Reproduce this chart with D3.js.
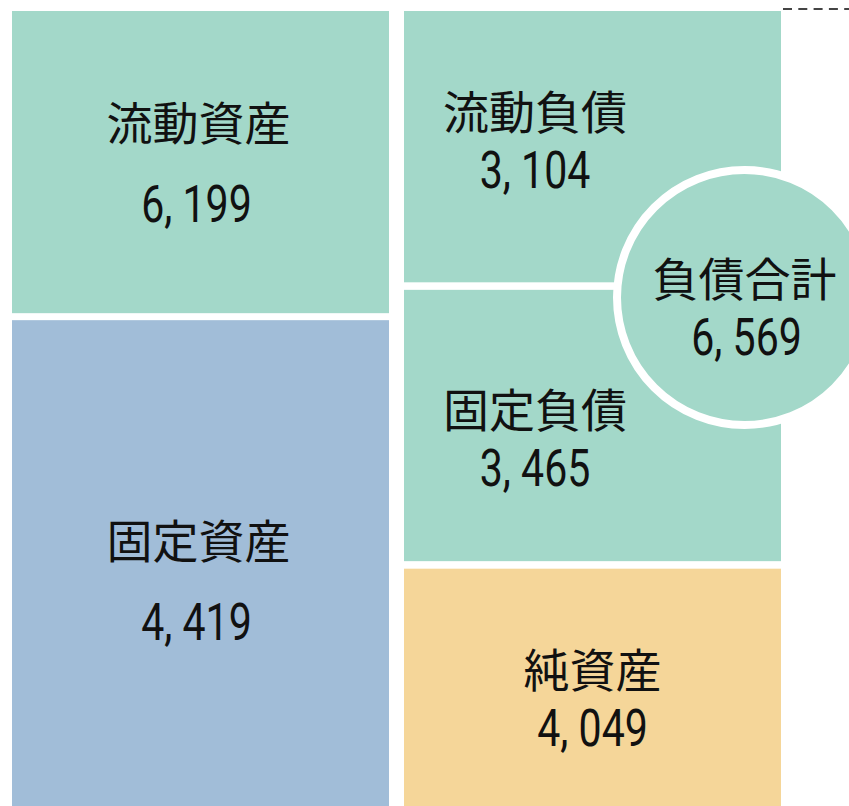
<!DOCTYPE html>
<html>
<head>
<meta charset="utf-8">
<script src="https://cdn.jsdelivr.net/npm/d3@7"></script>
<style>
  html, body { margin: 0; padding: 0; background: #fff; overflow: hidden; }
  svg { display: block; }
  .lbl { font-family: "Noto Sans CJK JP", "Noto Sans", sans-serif; font-size: 46px; fill: #111; }
  .num { font-family: Roboto, "DejaVu Sans", sans-serif; font-size: 52px; fill: #111; }
</style>
</head>
<body>
<div id="chart"></div>
<script>
// balance sheet blocks
const assetNames = ["流動資産", "固定資産"];
const assetValues = [6199, 4419];
const liabNames = ["流動負債", "固定負債", "純資産"];
const liabValues = [3104, 3465, 4049];
const totalName = "負債合計";
const totalValue = 6569;

const colors = { current: "#a3d8c9", fixed: "#a1bdd8", equity: "#f5d699" };

const width = 849, height = 806;
const fmt = v => d3.format(",")(v).replace(",", ", ");
const numSqueeze = 0.79;

const svg = d3.select("#chart").append("svg")
  .attr("width", width)
  .attr("height", height);

// two columns: assets | liabilities + equity
const x = d3.scaleBand()
  .domain(["assets", "liab"])
  .range([12, 781])
  .paddingInner(0.0383);

// right column rows
const yRight = d3.scaleBand()
  .domain(liabNames)
  .range([11, 840])
  .paddingInner(0.027);

// left column, first block is drawn shorter than the right column
const yLeft = d3.scaleLinear().domain([0, 1]).range([11, 840]);
const leftSplit = 0.3645, gap = 7;

const assets = assetNames.map((n, i) => ({
  name: n, value: assetValues[i],
  x0: x("assets"), x1: x("assets") + x.bandwidth(),
  y0: i === 0 ? yLeft(0) : yLeft(leftSplit) + gap,
  y1: i === 0 ? yLeft(leftSplit) : yLeft(1),
  color: i === 0 ? colors.current : colors.fixed
}));

const liabs = liabNames.map((n, i) => ({
  name: n, value: liabValues[i],
  x0: x("liab"), x1: x("liab") + x.bandwidth(),
  y0: yRight(n), y1: yRight(n) + yRight.bandwidth(),
  color: i < 2 ? colors.current : colors.equity
}));

const blocks = assets.concat(liabs);

svg.selectAll("rect.block")
  .data(blocks)
  .enter()
  .append("rect")
  .attr("class", "block")
  .attr("x", d => d.x0)
  .attr("y", d => d.y0)
  .attr("width", d => d.x1 - d.x0)
  .attr("height", d => d.y1 - d.y0)
  .attr("fill", d => d.color);

// dashed guide at the top right
svg.append("line")
  .attr("x1", x("liab") + x.bandwidth() + 2)
  .attr("x2", width)
  .attr("y1", 9).attr("y2", 9)
  .attr("stroke", "#444")
  .attr("stroke-width", 2)
  .attr("stroke-dasharray", "9,6.3");

// total liabilities circle
const cx = x("liab") + x.bandwidth() - 36.5;
const cy = 297.5;
svg.append("circle")
  .attr("cx", cx).attr("cy", cy).attr("r", 127.5)
  .attr("fill", colors.current)
  .attr("stroke", "#fff")
  .attr("stroke-width", 8);

const addLabel = (tx, ty, s) =>
  svg.append("text").attr("class", "lbl").attr("text-anchor", "middle")
    .attr("x", tx).attr("y", ty).text(s);
const addNum = (tx, ty, v) =>
  svg.append("text").attr("class", "num").attr("text-anchor", "middle")
    .attr("transform", `translate(${tx},${ty}) scale(${numSqueeze},1)`)
    .text(fmt(v));

// labels
const textX = (d, i, isLiab) => {
  if (isLiab && i < 2) return 535;
  return (d.x0 + d.x1) / 2 - (isLiab ? 0 : 2);
};
const nudge = [-8, 11, -7];

assets.forEach((d, i) => {
  const mid = (d.y0 + d.y1) / 2;
  const tx = textX(d, i, false);
  addLabel(tx, mid - 22, d.name);
  addNum(tx - 2, mid + 60, d.value);
});

liabs.forEach((d, i) => {
  const mid = (d.y0 + d.y1) / 2 + nudge[i];
  const tx = textX(d, i, true);
  addLabel(tx, mid - 10, d.name);
  addNum(tx, mid + 49, d.value);
});

addLabel(cx, cy - 2, totalName);
addNum(cx + 2, cy + 57, totalValue);
</script>
</body>
</html>
